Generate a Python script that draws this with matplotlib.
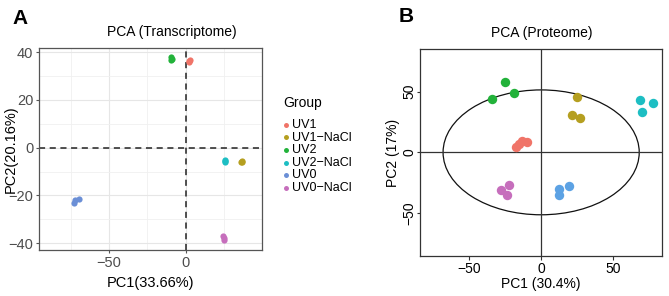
import matplotlib
matplotlib.use("Agg")
import matplotlib.pyplot as plt
from matplotlib.patches import Ellipse
import numpy as np

plt.rcParams['font.family'] = ['Liberation Sans', 'DejaVu Sans']

groups = ["UV1", "UV1\u2212NaCl", "UV2", "UV2\u2212NaCl", "UV0", "UV0\u2212NaCl"]
colors_a = ["#F07468", "#B59F20", "#22B23A", "#1DBEC3", "#6B8FD6", "#C66EBC"]
colors_b = ["#F07468", "#B59F20", "#22B23A", "#1DBEC3", "#5CA2E4", "#C66EBC"]

# transcriptome PCA scores (3 replicates per group)
tx_pc1 = {
    "UV1": [2.0, 2.5, 2.3],
    "UV1\u2212NaCl": [36.5, 36.8, 36.3],
    "UV2": [-9.3, -9.0, -9.5],
    "UV2\u2212NaCl": [25.8, 25.4, 25.6],
    "UV0": [-72.2, -72.8, -69.8],
    "UV0\u2212NaCl": [24.3, 24.8, 25.2],
}
tx_pc2 = {
    "UV1": [36.3, 36.6, 36.0],
    "UV1\u2212NaCl": [-5.6, -6.2, -6.0],
    "UV2": [38.2, 37.3, 36.9],
    "UV2\u2212NaCl": [-5.0, -5.8, -5.4],
    "UV0": [-22.0, -23.2, -21.6],
    "UV0\u2212NaCl": [-37.0, -38.5, -38.0],
}

# proteome PCA scores
pr_pc1 = {
    "UV1": [-17.7, -13.6, -10.1, -15.5],
    "UV1\u2212NaCl": [24.9, 21.5, 26.8],
    "UV2": [-24.9, -18.7, -34.3],
    "UV2\u2212NaCl": [68.8, 77.6, 70.2],
    "UV0": [12.5, 19.2, 12.5],
    "UV0\u2212NaCl": [-28.1, -22.6, -23.8],
}
pr_pc2 = {
    "UV1": [4.6, 9.3, 8.8, 6.5],
    "UV1\u2212NaCl": [45.7, 30.6, 28.1],
    "UV2": [57.9, 49.3, 44.0],
    "UV2\u2212NaCl": [43.5, 40.5, 33.6],
    "UV0": [-30.6, -27.6, -35.3],
    "UV0\u2212NaCl": [-31.2, -26.8, -35.3],
}
ellipse_width = 136
ellipse_height = 103

W, H = 669, 296
fig = plt.figure(figsize=(W / 100, H / 100), dpi=100)

# ---------- panel A ----------
axA = fig.add_axes([39 / W, 1 - 250 / H, 223 / W, 202 / H])
axA.set_xlim(-95.6, 49.7)
axA.set_ylim(-42.9, 41.8)
axA.set_xticks([-50, 0])
axA.set_xticks([-75, -25, 25], minor=True)
axA.set_yticks([-40, -20, 0, 20, 40])
axA.set_yticks([-30, -10, 10, 30], minor=True)
axA.grid(which='major', color='#E6E6E6', lw=0.8)
axA.grid(which='minor', color='#F0F0F0', lw=0.6)
axA.set_axisbelow(True)
axA.axhline(0, color='#222222', ls=(0, (4, 3)), lw=1.1)
axA.axvline(0, color='#222222', ls=(0, (4, 3)), lw=1.1)
for g, c in zip(groups, colors_a):
    axA.scatter(tx_pc1[g], tx_pc2[g], s=20, color=c, label=g, lw=0, zorder=3)
for s in axA.spines.values():
    s.set_color('#555555')
    s.set_linewidth(0.9)
axA.tick_params(which='major', length=2.5, color='#555555', labelsize=10.5,
                labelcolor='#4D4D4D', pad=1.5)
axA.tick_params(which='minor', length=0)
axA.set_xlabel("PC1(33.66%)", fontsize=10.5, va='center')
axA.set_ylabel("PC2(20.16%)", fontsize=10.5, va='center')
axA.xaxis.set_label_coords(0.5, (250 - 283) / 202)
axA.yaxis.set_label_coords((11 - 39) / 223, 0.5)
fig.text(172 / W, 1 - 32 / H, "PCA (Transcriptome)", ha='center', va='center', fontsize=10)
fig.text(20 / W, 1 - 19 / H, "A", ha='center', va='center', fontsize=15, fontweight='bold')

fig.text(283 / W, 1 - 102.7 / H, "Group", ha='left', va='center', fontsize=10)
leg = axA.legend(loc='upper left', bbox_to_anchor=(282 / W, 1 - 119 / H),
                 bbox_transform=fig.transFigure, frameon=False, fontsize=9,
                 handletextpad=0.18, labelspacing=0.05, handlelength=0.6,
                 markerscale=0.8, borderaxespad=0, borderpad=0)

# ---------- panel B ----------
axB = fig.add_axes([420 / W, 1 - 256 / H, 242.3 / W, 206.7 / H])
axB.set_xlim(-84, 84)
axB.set_ylim(-85.5, 85)
axB.axhline(0, color='#333333', lw=0.9)
axB.axvline(0, color='#333333', lw=0.9)
axB.add_patch(Ellipse((0, 0), ellipse_width, ellipse_height, fill=False,
                      edgecolor='#111111', lw=0.9))
for g, c in zip(groups, colors_b):
    axB.scatter(pr_pc1[g], pr_pc2[g], s=46, color=c, lw=0, zorder=3)
axB.set_xticks([-50, 0, 50])
axB.set_yticks([-50, 0, 50])
axB.set_xticklabels(["\u221250", "0", "50"])
axB.set_yticklabels(["\u221250", "0", "50"], rotation=90, va='center')
for s in axB.spines.values():
    s.set_color('#333333')
    s.set_linewidth(0.9)
axB.tick_params(length=3, color='#333333', labelsize=10)
axB.tick_params(axis='x', pad=1.5)
axB.tick_params(axis='y', length=2.5, pad=0)
axB.set_xlabel("PC1 (30.4%)", fontsize=10, va='center')
axB.set_ylabel("PC2 (17%)", fontsize=10, va='center')
axB.xaxis.set_label_coords(0.5, (256 - 284) / 206.7)
axB.yaxis.set_label_coords((393 - 420) / 242.3, 0.5)
fig.text(541.7 / W, 1 - 33 / H, "PCA (Proteome)", ha='center', va='center', fontsize=10)
fig.text(406 / W, 1 - 16 / H, "B", ha='center', va='center', fontsize=15, fontweight='bold')

fig.savefig("out.png", dpi=100)
